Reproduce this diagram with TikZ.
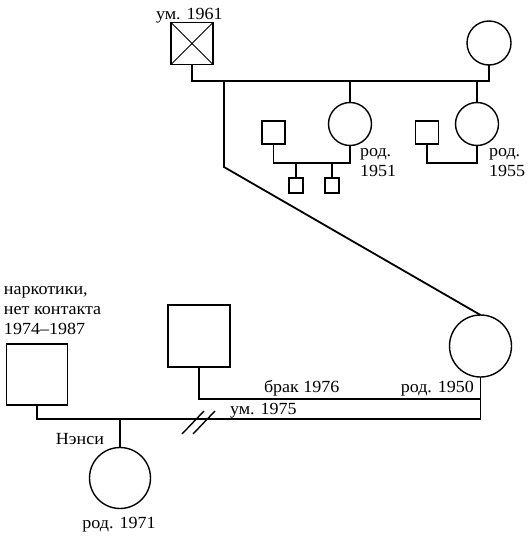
\documentclass[tikz,border=0pt]{standalone}
\usepackage{fontspec}
\setmainfont{Liberation Serif}[FakeStretch=1.06]
\begin{document}
\begin{tikzpicture}[x=1pt,y=-1pt,
  every node/.style={inner sep=0pt, outer sep=0pt},
  sq/.style={draw, line width=1.6pt, rectangle},
  circ/.style={draw, line width=1.4pt, circle},
  conn/.style={line width=1.8pt},
  lbl/.style={font=\fontsize{17}{20}\selectfont},
  mlbl/.style={font=\fontsize{17}{20}\selectfont, align=left}]
\useasboundingbox (0,0) rectangle (531,541);
% top generation
\node[sq, minimum size=42pt] (gf) at (192,43.5) {};
\draw[line width=0.9pt] (gf.north west) -- (gf.south east) (gf.north east) -- (gf.south west);
\node[lbl, anchor=base west] (gfl) at (156,19) {ум. 1961};
\node[circ, minimum size=44pt] (gm) at (489,43) {};
\coordinate (tl) at (192,81);
\draw[conn] (gf.south) -- (tl) -| (gm.south);
% daughters
\node[circ, minimum size=43pt] (a1) at (350,124) {};
\node[circ, minimum size=43pt] (a2) at (477,124) {};
\draw[conn] (a1.north) -- (a1.north |- tl);
\draw[conn] (a2.north) -- (a2.north |- tl);
\node[sq, minimum size=23pt] (h1) at (273.5,132.5) {};
\node[sq, minimum size=23pt] (h2) at (427,132.5) {};
\coordinate (m2) at (350,163);
\coordinate (m3) at (477,163);
\draw[conn] (h1.south) |- (m2) -- (a1.south);
\draw[conn] (h2.south) |- (m3) -- (a2.south);
\node[sq, minimum size=14.5pt] (g1) at (296,185.5) {};
\node[sq, minimum size=14.5pt] (g2) at (332,185.5) {};
\draw[conn] (g1.north) -- (g1.north |- m2);
\draw[conn] (g2.north) -- (g2.north |- m2);
\node[mlbl, anchor=base west] (a1l) at (360,176) {род.\\1951};
\node[mlbl, anchor=base west] (a2l) at (489,176) {род.\\1955};
% mother
\node[circ, minimum size=62pt] (mom) at (480.5,346) {};
\coordinate (d1) at (224,81);
\coordinate (d1b) at (224,167);
\draw[conn] (d1) -- (d1b) -- (mom.north);
\node[lbl, anchor=base east] (moml) at (474,392) {род. 1950};
% second husband
\node[sq, minimum size=62pt] (nh) at (199,336) {};
\coordinate (m4) at (480.5,399);
\draw[conn] (nh.south) |- (m4);
\node[lbl, anchor=base west] (brl) at (264,392) {брак 1976};
% first husband
\node[sq, minimum size=61pt] (lf) at (37,374.5) {};
\node[mlbl, anchor=base west] (lfl) at (4,334) {наркотики,\\нет контакта\\1974–1987};
\coordinate (m5) at (480.5,419);
\draw[conn] (lf.south) |- (m5) -- (mom.south);
\node[lbl, anchor=base west] (uml) at (230,414) {ум. 1975};
\coordinate (s1a) at (182,434);
\coordinate (s1b) at (204,411);
\coordinate (s2a) at (193,434);
\coordinate (s2b) at (215,411);
\draw[line width=1.4pt] (s1a) -- (s1b) (s2a) -- (s2b);
% child
\node[circ, minimum size=61pt] (ch) at (120,478) {};
\draw[conn] (ch.north) -- (ch.north |- m5);
\node[lbl, anchor=base east] (chn) at (104,444) {Нэнси};
\node[lbl, anchor=base] (chl) at (119,528) {род. 1971};
\end{tikzpicture}
\end{document}
